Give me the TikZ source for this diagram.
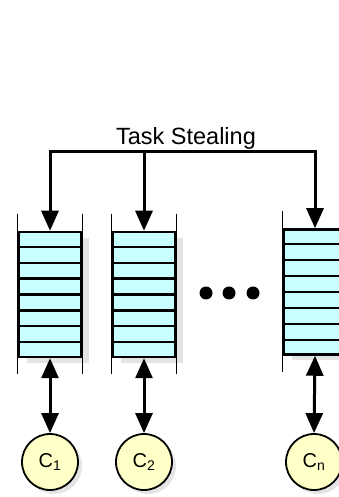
\documentclass[tikz,border=0pt]{standalone}
\usepackage{fontspec}
\setmainfont{Liberation Sans}
\usetikzlibrary{positioning, calc, arrows.meta, shadows}

\definecolor{queuecyan}{RGB}{200,255,255}
\definecolor{coreyellow}{RGB}{255,255,200}
\definecolor{shadowgray}{RGB}{228,228,228}

\tikzset{
    queue/.style={rectangle, draw, line width=2.5pt, fill=queuecyan,
        minimum width=62pt, minimum height=125pt, inner sep=0pt,
        drop shadow={shadow xshift=8pt, shadow yshift=-6pt, fill=shadowgray, opacity=1}},
    core/.style={circle, draw, line width=1.8pt, fill=coreyellow,
        minimum size=56pt, inner sep=0pt, font=\fontsize{20}{22}\selectfont,
        drop shadow={shadow xshift=4pt, shadow yshift=-4pt, fill=shadowgray, opacity=1}},
    dot/.style={circle, fill, minimum size=13pt, inner sep=0pt},
    link/.style={line width=3pt, -{Triangle[length=20pt, width=17pt]}},
    duplex/.style={line width=3pt, {Triangle[length=20pt, width=17pt]}-{Triangle[length=20pt, width=17pt]}},
}

\begin{document}
\begin{tikzpicture}[x=1pt, y=1pt]
\useasboundingbox (0,0) rectangle (339,497);

% task queues
\foreach \i/\x/\y in {1/50/202.5, 2/144/202.5, 3/315/205} {
    \node[queue] (q\i) at (\x,\y) {};
    \foreach \k in {1,...,7} {
        \draw[line width=2.2pt] ($(q\i.north west)!\k/8!(q\i.south west)$) -- ($(q\i.north east)!\k/8!(q\i.south east)$);
    }
    \draw[line width=1pt] ($(q\i.north west)+(0,17)$) -- ($(q\i.south west)+(0,-16)$);
    \draw[line width=1pt] ($(q\i.north east)+(0,17)$) -- ($(q\i.south east)+(0,-16)$);
}

% ellipsis between queues
\foreach \j/\x in {1/206, 2/229, 3/253} {
    \node[dot] (d\j) at (\x,204) {};
}

% cores
\node[core] (c1) at (50,35) {C\textsubscript{1}};
\node[core] (c2) at (144,35) {C\textsubscript{2}};
\node[core] (c3) at (314,35) {C\textsubscript{n}};

\foreach \i in {1,2,3} {
    \draw[duplex] (q\i.south) -- (c\i.north);
}

% stealing bus
\node[anchor=base, font=\fontsize{23.5}{26}\selectfont] (steal) at (186,352) {Task Stealing};
\coordinate (bus) at (0,345);
\draw[link] (q2.north |- bus) -| (q1.north);
\draw[link] (q2.north |- bus) -| (q3.north);
\draw[link] (q2.north |- bus) -- (q2.north);
\end{tikzpicture}
\end{document}
